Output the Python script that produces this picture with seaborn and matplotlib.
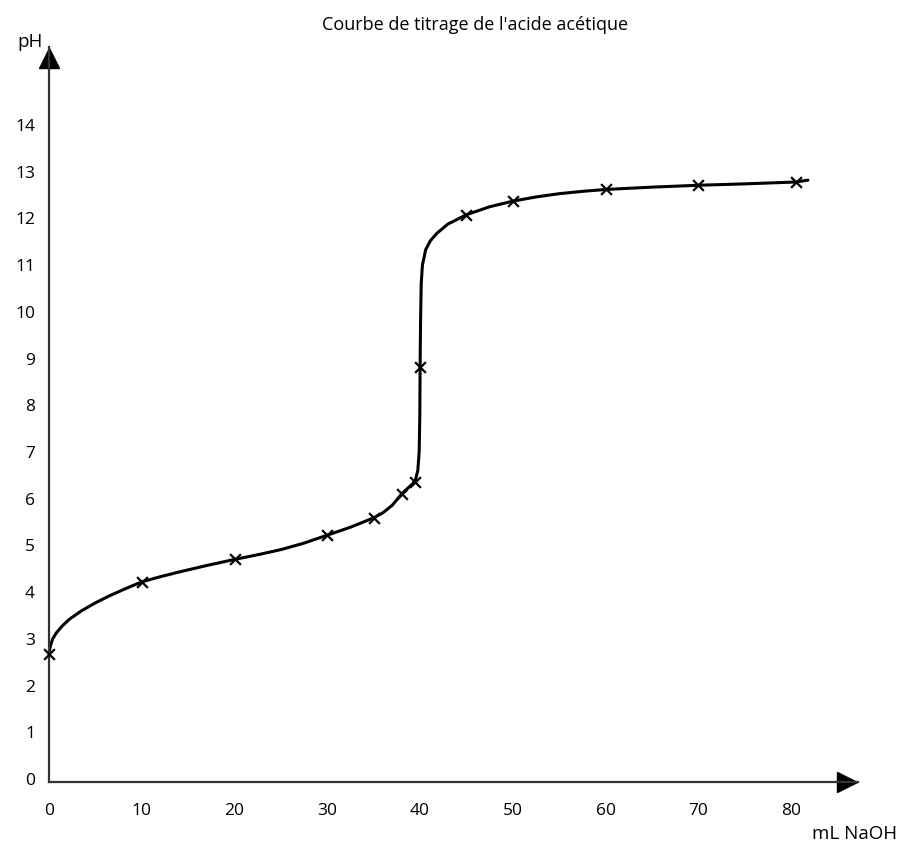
import matplotlib
matplotlib.use("Agg")
import matplotlib.pyplot as plt
import seaborn as sns
import pandas as pd

# measured points (crosses)
marker_ml = [0, 10, 20, 30, 35, 38, 39.5, 40, 45, 50, 60, 70, 80.5]
marker_ph = [2.68, 4.22, 4.70, 5.22, 5.59, 6.10, 6.36, 8.82, 12.08, 12.37, 12.62, 12.71, 12.78]

# hand drawn curve
curve_ml = [0, 0.15, 0.4, 0.8, 1.4, 2.2, 3.5, 5.0, 6.5, 8.2, 10.0, 12.0, 14.0, 17.0,
            20.0, 22.5, 25.0, 27.5, 30.0, 32.5, 35.0, 36.0, 37.0, 38.0, 38.7, 39.2,
            39.5, 39.75, 39.9, 39.97, 40.0, 40.05, 40.12, 40.25, 40.6, 41.1, 41.8,
            43.0, 45.0, 47.5, 50.0, 52.5, 55.0, 57.5, 60.0, 65.0, 70.0, 75.0, 80.5, 81.8]
curve_ph = [2.68, 2.85, 3.0, 3.13, 3.27, 3.42, 3.6, 3.77, 3.92, 4.07, 4.22, 4.33, 4.43,
            4.57, 4.70, 4.80, 4.91, 5.05, 5.22, 5.39, 5.59, 5.70, 5.86, 6.10, 6.23,
            6.32, 6.40, 6.60, 7.0, 7.8, 8.82, 9.8, 10.6, 11.0, 11.33, 11.52, 11.68,
            11.88, 12.08, 12.25, 12.37, 12.46, 12.53, 12.58, 12.62, 12.67, 12.71,
            12.74, 12.78, 12.82]

x_ticks = list(range(0, 90, 10))
y_ticks = list(range(0, 15))

curve = pd.DataFrame({"ml": curve_ml, "ph": curve_ph})
points = pd.DataFrame({"ml": marker_ml, "ph": marker_ph})

sns.set_style("white")
plt.rcParams["font.family"] = ["Open Sans", "DejaVu Sans"]

W, H = 899, 844
fig = plt.figure(figsize=(W / 100, H / 100), dpi=100)
left, right, bottom, top = 49, 858, 782, 47
ax = fig.add_axes([left / W, 1 - bottom / H, (right - left) / W, (bottom - top) / H])

sns.lineplot(data=curve, x="ml", y="ph", ax=ax, sort=False, estimator=None,
             color="black", linewidth=2.2, clip_on=False)
sns.scatterplot(data=points, x="ml", y="ph", ax=ax, marker="x", color="black",
                s=60, linewidth=1.6, zorder=3, clip_on=False)

ax.set_xlim(0, 87.2)
ax.set_ylim(-0.065, 15.67)
ax.set_xticks(x_ticks)
ax.set_yticks(y_ticks)
ax.tick_params(axis="both", length=0, labelsize=12.5, colors="black")
ax.tick_params(axis="y", pad=10)
ax.tick_params(axis="x", pad=15)
ax.set_xlabel("")
ax.set_ylabel("")

for s in ["top", "right"]:
    ax.spines[s].set_visible(False)
for s in ["left", "bottom"]:
    ax.spines[s].set_color("#333333")
    ax.spines[s].set_linewidth(1.6)

# arrow heads
ax.plot([0.986], [0], marker=">", markersize=15, color="black",
        transform=ax.transAxes, clip_on=False)
ax.plot([0], [0.985], marker="^", markersize=15, color="black",
        transform=ax.transAxes, clip_on=False)

fig.text(475 / W, 1 - 25 / H, "Courbe de titrage de l'acide acétique",
         ha="center", va="center", fontsize=13, color="black")
fig.text(30 / W, 1 - 42 / H, "pH", ha="center", va="center", fontsize=13.5,
         color="black")
fig.text(897 / W, 1 - 834 / H, "mL NaOH", ha="right", va="center", fontsize=13.5,
         color="black")

fig.savefig("out.png", dpi=100)
